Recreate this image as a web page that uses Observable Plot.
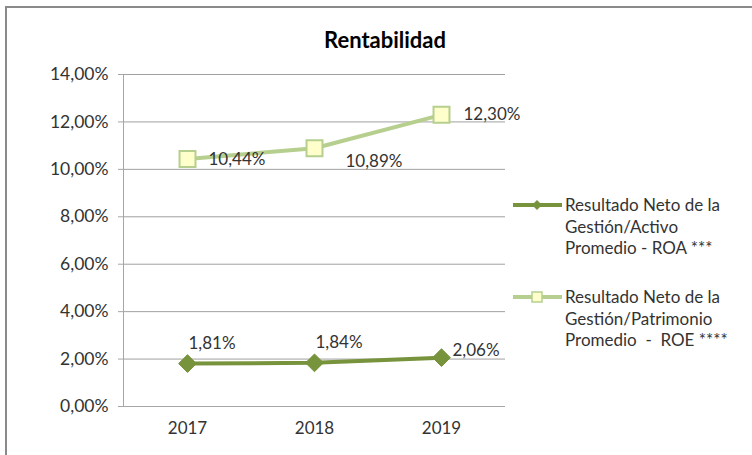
<!DOCTYPE html>
<html><head><meta charset="utf-8">
<script src="https://cdn.jsdelivr.net/npm/d3@7"></script>
<script src="https://cdn.jsdelivr.net/npm/@observablehq/plot@0.6"></script>
<style>
body{margin:0;background:#fff}
#wrap{position:relative;width:752px;height:455px;overflow:hidden;font-family:Lato,"Open Sans",sans-serif;color:#333}
#frame{position:absolute;left:5px;top:6px;width:900px;height:600px;border-left:2px solid #8a8a8a;border-top:2px solid #8a8a8a}
#chart{position:absolute;left:0;top:0}
#title{position:absolute;left:0;width:770px;top:26px;text-align:center;font-weight:bold;font-size:22px;color:#000}
.leg{position:absolute;left:512px;display:flex;align-items:flex-start}
.leg svg{flex:none;margin-top:0}
.leg div{font-size:17px;line-height:21.5px;margin-left:3px;white-space:pre}
</style></head>
<body>
<div id="wrap">
<div id="frame"></div>
<div id="chart"></div>
<div id="title">Rentabilidad</div>
<div id="legend"></div>
</div>
<script>
const years = ["2017", "2018", "2019"];
const roa = [1.81, 1.84, 2.06];
const roe = [10.44, 10.89, 12.30];
const yTicks = [0, 2, 4, 6, 8, 10, 12, 14];
const seriesNames = [
  ["Resultado Neto de la", "Gestión/Activo", "Promedio - ROA ***"],
  ["Resultado Neto de la", "Gestión/Patrimonio", "Promedio  -  ROE ****"]
];
const colors = {roaLine: "#77933c", roaFill: "#77933c", roeLine: "#b7cf8e", roeFill: "#ffffcc"};

const roaData = years.map((y, i) => ({year: y, value: roa[i], i}));
const roeData = years.map((y, i) => ({year: y, value: roe[i], i}));
const fmtPct = v => v.toFixed(2).replace(".", ",") + "%";

const labelStyle = {x: "year", y: "value", text: d => fmtPct(d.value), fontSize: 17, fill: "#333", textAnchor: "start", fontFamily: "Lato"};

const chart = Plot.plot({
  width: 752, height: 455,
  marginLeft: 123, marginRight: 247, marginTop: 74, marginBottom: 49,
  style: {fontFamily: "Lato", background: "transparent"},
  x: {type: "point", domain: years, padding: 0.5},
  y: {domain: [0, 14]},
  marks: [
    Plot.gridY(yTicks.filter(t => t > 0), {stroke: "#a0a0a0", strokeOpacity: 1}),
    Plot.ruleY([0], {stroke: "#a6a6a6"}),
    Plot.frame({anchor: "left", stroke: "#a6a6a6"}),
    Plot.axisY(yTicks, {tickSize: 5, tickPadding: 10, tickFormat: fmtPct, fontSize: 17.5, stroke: "#a6a6a6", fill: "#333", label: null}),
    Plot.axisX({tickSize: 0, tickPadding: 15, fontSize: 17, fill: "#333", label: null}),
    Plot.line(roeData, {x: "year", y: "value", stroke: colors.roeLine, strokeWidth: 4}),
    Plot.dot(roeData, {x: "year", y: "value", symbol: "square", r: 9, fill: colors.roeFill, stroke: colors.roeLine, strokeWidth: 2}),
    Plot.line(roaData, {x: "year", y: "value", stroke: colors.roaLine, strokeWidth: 4}),
    Plot.dot(roaData, {x: "year", y: "value", symbol: "diamond2", r: 8, fill: colors.roaFill, stroke: colors.roaLine, strokeWidth: 1}),
    Plot.text(roaData, {...labelStyle, filter: d => d.i < 2, dx: 1, dy: -20}),
    Plot.text(roaData, {...labelStyle, filter: d => d.i === 2, dx: 11, dy: -7}),
    Plot.text(roeData, {...labelStyle, filter: d => d.i === 0, dx: 21, dy: 1}),
    Plot.text(roeData, {...labelStyle, filter: d => d.i === 1, dx: 31, dy: 13}),
    Plot.text(roeData, {...labelStyle, filter: d => d.i === 2, dx: 22, dy: 0})
  ]
});
document.getElementById("chart").appendChild(chart);

// legend
const legend = document.getElementById("legend");
const tops = [194, 286];
seriesNames.forEach((lines, k) => {
  const item = document.createElement("div");
  item.className = "leg";
  item.style.top = tops[k] + "px";
  const sw = k === 0
    ? `<svg width="50" height="22"><line x1="1" x2="50" y1="11" y2="11" stroke="${colors.roaLine}" stroke-width="4"/><path d="M25,6 L30,11 L25,16 L20,11Z" fill="${colors.roaFill}"/></svg>`
    : `<svg width="50" height="22"><line x1="1" x2="50" y1="11" y2="11" stroke="${colors.roeLine}" stroke-width="4"/><rect x="20" y="6" width="10" height="10" fill="${colors.roeFill}" stroke="${colors.roeLine}" stroke-width="1.5"/></svg>`;
  item.innerHTML = sw + `<div>${lines.join("\n")}</div>`;
  legend.appendChild(item);
});
</script>
</body></html>
